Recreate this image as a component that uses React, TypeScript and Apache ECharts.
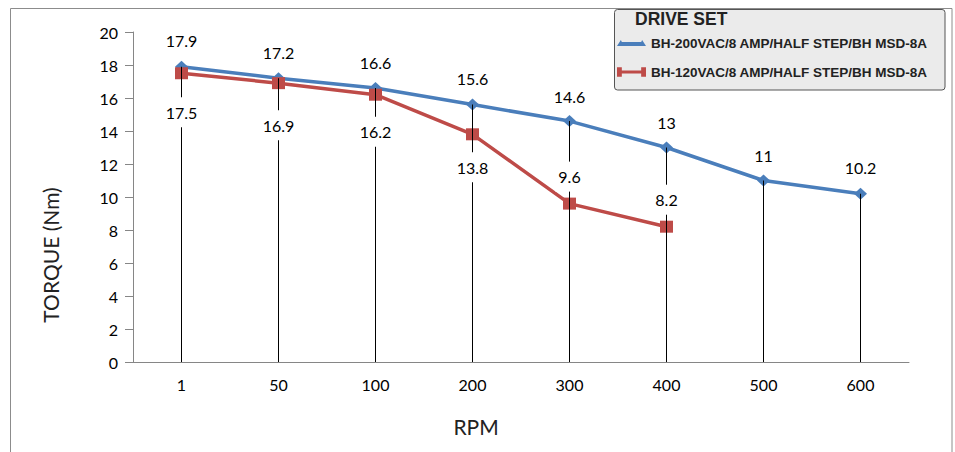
import React, { useEffect, useRef } from "react";
import * as echarts from "echarts";

const categories = ["1", "50", "100", "200", "300", "400", "500", "600"];
const yTicks = { min: 0, max: 20, interval: 2 };
const series200 = [17.9, 17.2, 16.6, 15.6, 14.6, 13, 11, 10.2];
const series120: (number | null)[] = [17.5, 16.9, 16.2, 13.8, 9.6, 8.2, null, null];
const name200 = "BH-200VAC/8 AMP/HALF STEP/BH MSD-8A";
const name120 = "BH-120VAC/8 AMP/HALF STEP/BH MSD-8A";
const legendTitle = "DRIVE SET";
const xName = "RPM";
const yName = "TORQUE (Nm)";

// label placement (style only)
const offsets200 = [-26, -26, -26, -26, -25, -25, -25, -26];
const offsets120 = [39, 42, 37, 33, -27, -27, 0, 0];

const BLUE = "#4A7EBB";
const RED = "#BE4B48";
const NUM_FONT = "Lato, 'Open Sans', sans-serif";

export default function App() {
  const ref = useRef<HTMLDivElement>(null);
  useEffect(() => {
    if (!ref.current) return;
    const chart = echarts.init(ref.current, undefined, { renderer: "svg" });
    const dropValues = series200.map((v, i) => {
      const r = series120[i];
      return r == null ? v : Math.max(v, r);
    });
    const labelSeries = (vals: (number | null)[], offs: number[], name: string) => ({
      type: "custom",
      name: name + "-labels",
      silent: true,
      z: 10,
      data: vals.map((v, i) => [i, v == null ? NaN : v, offs[i]]),
      encode: { x: 0, y: 1 },
      renderItem: (params: any, api: any) => {
        const v = api.value(1);
        if (isNaN(v)) return null;
        const pt = api.coord([api.value(0), v]);
        return {
          type: "text",
          z2: 100,
          x: pt[0],
          y: pt[1] + api.value(2),
          style: {
            text: String(v),
            align: "center",
            verticalAlign: "middle",
            fill: "#000",
            fontSize: 16,
            fontFamily: NUM_FONT,
            backgroundColor: "#fff",
            padding: [7, 3],
          },
        };
      },
    });
    chart.setOption({
      animation: false,
      backgroundColor: "#fff",
      title: {
        text: legendTitle,
        left: 635,
        top: 10,
        padding: 0,
        textStyle: {
          fontSize: 17.5,
          fontWeight: "bold",
          color: "#222",
          fontFamily: "'Liberation Sans', Arial, sans-serif",
        },
        z: 10,
      },
      graphic: [
        {
          type: "rect",
          z: -10,
          shape: { x: 10.5, y: 8.5, width: 941.5, height: 470 },
          style: { fill: "none", stroke: "#8c8c8c", lineWidth: 1 },
          silent: true,
        },
        {
          type: "rect",
          z: 5,
          shape: { x: 614.5, y: 9.5, width: 330.5, height: 80.5, r: 3 },
          style: { fill: "#ebebeb", stroke: "#555", lineWidth: 1 },
          silent: true,
        },
      ],
      legend: {
        orient: "vertical",
        left: 617,
        top: 36,
        padding: 0,
        itemGap: 15,
        itemWidth: 29,
        itemHeight: 10,
        z: 10,
        data: [
          {
            name: name200,
            icon: "path://M0,8 L4,2 L5,4 L25,4 L26,2 L30,8 Z",
            itemStyle: { color: BLUE },
          },
          {
            name: name120,
            icon: "path://M0,0 L5,0 L5,3.5 L25,3.5 L25,0 L30,0 L30,10 L25,10 L25,6.5 L5,6.5 L5,10 L0,10 Z",
            itemStyle: { color: RED },
          },
        ],
        textStyle: {
          fontSize: 13.5,
          fontWeight: "bold",
          color: "#222",
          fontFamily: "'Liberation Sans', Arial, sans-serif",
        },
      },
      grid: { left: 133, right: 46, top: 32, bottom: 90, containLabel: false },
      xAxis: {
        type: "category",
        data: categories,
        boundaryGap: true,
        axisLine: { show: true, lineStyle: { color: "#868686", width: 1 } },
        axisTick: { show: false },
        axisLabel: { color: "#000", fontSize: 16, fontFamily: NUM_FONT, margin: 14 },
        name: xName,
        nameLocation: "middle",
        nameGap: 54,
        nameTextStyle: {
          fontSize: 21,
          color: "#222",
          fontFamily: NUM_FONT,
          padding: [0, 90, 0, 0],
        },
      },
      yAxis: {
        type: "value",
        min: yTicks.min,
        max: yTicks.max,
        interval: yTicks.interval,
        axisLine: { show: true, lineStyle: { color: "#868686", width: 1 } },
        axisTick: { show: true, length: 8, lineStyle: { color: "#868686" } },
        splitLine: { show: false },
        axisLabel: { color: "#000", fontSize: 16, fontFamily: NUM_FONT, margin: 15 },
        name: yName,
        nameLocation: "middle",
        nameGap: 72,
        nameRotate: 90,
        nameTextStyle: {
          fontSize: 21,
          color: "#222",
          fontFamily: NUM_FONT,
          padding: [0, 116, 0, 0],
        },
      },
      series: [
        {
          type: "line",
          name: name200,
          data: series200,
          z: 2,
          color: BLUE,
          symbol: "diamond",
          symbolSize: [13, 12],
          lineStyle: { width: 3.5, color: BLUE },
          itemStyle: { color: BLUE },
        },
        {
          type: "line",
          name: name120,
          data: series120,
          z: 3,
          color: RED,
          symbol: "rect",
          symbolSize: [13, 12],
          lineStyle: { width: 3.5, color: RED },
          itemStyle: { color: RED },
        },
        {
          type: "bar",
          name: "drop",
          data: dropValues,
          barWidth: 1,
          z: 4,
          silent: true,
          itemStyle: { color: "#000" },
        },
        labelSeries(series200, offsets200, name200),
        labelSeries(series120, offsets120, name120),
      ],
    });
    return () => chart.dispose();
  }, []);
  return (
    <div
      ref={ref}
      style={{ position: "absolute", left: 0, top: 0, width: 955, height: 452 }}
    />
  );
}
